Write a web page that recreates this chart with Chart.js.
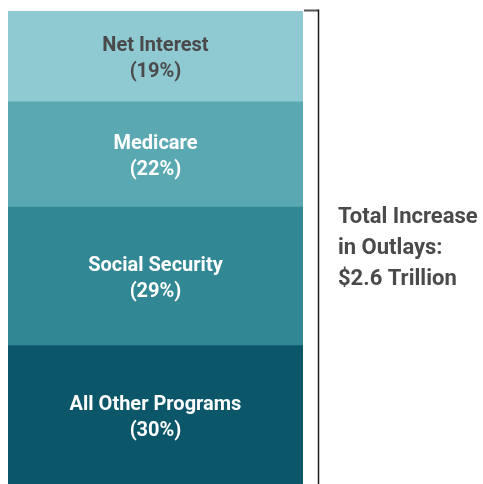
<!DOCTYPE html>
<html>
<head>
<meta charset="utf-8">
<script src="https://cdn.jsdelivr.net/npm/chart.js@4"></script>
<style>
  html, body { margin: 0; padding: 0; background: #fff; overflow: hidden; }
  #wrap { width: 483px; height: 489px; }
</style>
</head>
<body>
<div id="wrap"><canvas id="outlays-chart"></canvas></div>
<script>
// data, bottom to top
const categories = ['Increase'];
const programs = ['All Other Programs', 'Social Security', 'Medicare', 'Net Interest'];
const shares = [30, 29, 22, 19];
const colors = ['#0b5669', '#318793', '#5aa8b1', '#8fc9d1'];
const labelColors = ['#ffffff', '#ffffff', '#ffffff', '#4a4a4a'];
const totalLines = ['Total Increase', 'in Outlays:', '$2.6 Trillion'];

const FONT = 'Roboto, "Liberation Sans", sans-serif';
const VISIBLE_H = 484; // the bar runs off the bottom of the picture

// labels inside the segments + bracket and total text on the right
const annotate = {
    id: 'annotate',
    afterDatasetsDraw(chart) {
        const ctx = chart.ctx;
        const area = chart.chartArea;
        ctx.save();
        ctx.textAlign = 'center';
        ctx.textBaseline = 'middle';
        ctx.font = 'bold 20px ' + FONT;
        chart.data.datasets.forEach((ds, i) => {
            const bar = chart.getDatasetMeta(i).data[0];
            const mid = (bar.y + Math.min(bar.base, VISIBLE_H)) / 2 + 3;
            ctx.fillStyle = labelColors[i];
            ctx.fillText(programs[i], bar.x, mid - 13);
            ctx.fillText('(' + shares[i] + '%)', bar.x, mid + 13);
        });

        // bracket
        const bx = area.right + 15.5;
        ctx.strokeStyle = '#555';
        ctx.lineWidth = 2;
        ctx.beginPath();
        ctx.moveTo(area.right + 1, area.top - 0.5);
        ctx.lineTo(bx, area.top - 0.5);
        ctx.stroke();
        ctx.strokeStyle = '#1a1a1a';
        ctx.lineWidth = 1.5;
        ctx.beginPath();
        ctx.moveTo(bx, area.top - 1.5);
        ctx.lineTo(bx, chart.height);
        ctx.stroke();

        // total text
        ctx.textAlign = 'left';
        ctx.fillStyle = '#4a4a4a';
        ctx.font = 'bold 22px ' + FONT;
        totalLines.forEach((t, k) => {
            ctx.fillText(t, 338, 217 + k * 31);
        });
        ctx.restore();
    }
};

const ctx = document.getElementById('outlays-chart').getContext('2d');
const outlaysChart = new Chart(ctx, {
    type: 'bar',
    data: {
        labels: categories,
        datasets: programs.map((p, i) => ({
            label: p,
            data: [shares[i]],
            backgroundColor: colors[i],
            borderWidth: 0,
            barPercentage: 1,
            categoryPercentage: 1
        }))
    },
    options: {
        responsive: true,
        maintainAspectRatio: false,
        animation: false,
        layout: { padding: { left: 8, top: 11, right: 180, bottom: 0 } },
        scales: {
            x: { stacked: true, display: false },
            y: { stacked: true, display: false, min: 0, max: 100 }
        },
        plugins: {
            legend: { display: false },
            tooltip: { enabled: false }
        }
    },
    plugins: [annotate]
});
</script>
</body>
</html>
